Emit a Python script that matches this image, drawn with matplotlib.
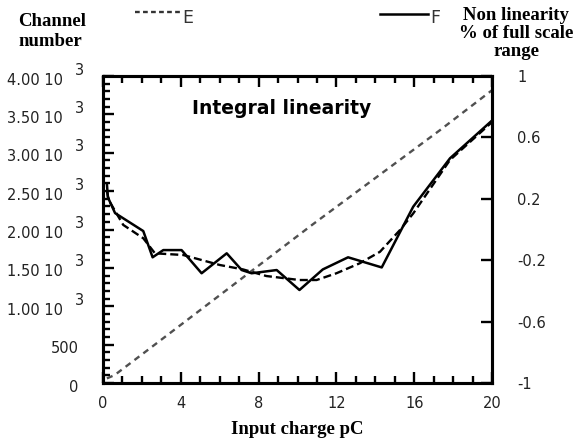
import matplotlib
matplotlib.use("Agg")
import matplotlib.pyplot as plt
import matplotlib.transforms as mtransforms
from matplotlib.ticker import MultipleLocator, FixedLocator

# curva de canales (eje izquierdo)
carga_canal = [0.2, 0.6, 2.3, 10.8, 17.3, 20.0]
canal = [60, 104, 430, 2070, 3290, 3815]

# no linealidad F (linea continua, eje derecho)
carga_f = [0.2, 0.25, 0.62, 2.07, 2.55, 3.1, 4.04, 5.07, 6.36, 7.13, 7.64, 8.93,
           10.1, 11.3, 12.6, 14.33, 15.95, 17.84, 20.0]
nolin_f = [0.30, 0.21, 0.107, -0.01, -0.181, -0.134, -0.134, -0.285, -0.155, -0.264,
           -0.285, -0.264, -0.394, -0.26, -0.181, -0.247, 0.149, 0.464, 0.71]

# no linealidad E (linea discontinua, eje derecho)
carga_e = [0.2, 0.3, 1.04, 2.07, 2.67, 4.12, 6.0, 7.2, 8.4, 10.1, 10.98, 12.0,
           13.2, 14.24, 15.27, 15.95, 17.84, 20.0]
nolin_e = [0.25, 0.19, 0.03, -0.057, -0.155, -0.166, -0.231, -0.26, -0.303, -0.329,
           -0.329, -0.285, -0.22, -0.145, -0.003, 0.105, 0.453, 0.70]

xticks = [0, 4, 8, 12, 16, 20]
yticks_izq = [0, 500, 1000, 1500, 2000, 2500, 3000, 3500, 4000]
ylabels_izq = ["0", "500", "1.00 10", "1.50 10", "2.00 10", "2.50 10",
               "3.00 10", "3.50 10", "4.00 10"]
yticks_der = [-1, -0.6, -0.2, 0.2, 0.6, 1]
ylabels_der = ["-1", "-0.6", "-0.2", "0.2", "0.6", "1"]

fig = plt.figure(figsize=(5.8, 4.43), dpi=100)
ax = fig.add_axes([0.1776, 0.1354, 0.6707, 0.693])
ax2 = ax.twinx()

ax.plot(carga_canal, canal, color="#505050", lw=1.7, dashes=(2.6, 2.1))
ax2.plot(carga_e, nolin_e, color="black", lw=1.7, dashes=(3.4, 1.7))
ax2.plot(carga_f, nolin_f, color="black", lw=1.8)

ax.set_xlim(0, 20)
ax.set_ylim(0, 4000)
ax2.set_ylim(-1, 1)

for s in ax.spines.values():
    s.set_linewidth(2.2)
for s in ax2.spines.values():
    s.set_linewidth(2.2)

ax.xaxis.set_major_locator(FixedLocator(xticks))
ax.xaxis.set_minor_locator(MultipleLocator(1))
ax.yaxis.set_major_locator(FixedLocator(yticks_izq))
ax.yaxis.set_minor_locator(MultipleLocator(100))
ax.tick_params(which="both", direction="in", top=True, width=1.7)
ax.tick_params(which="major", length=8)
ax.tick_params(which="minor", length=5)
ax.tick_params(axis="x", labelsize=10.5, pad=9, labelcolor="#222222")
ax.tick_params(axis="y", labelleft=False)

ax2.yaxis.set_major_locator(FixedLocator(yticks_der))
ax2.set_yticklabels(ylabels_der)
ax2.tick_params(direction="in", length=8, width=1.7, labelsize=10.5, pad=18,
                labelcolor="#222222")

# etiquetas del eje izquierdo con el exponente elevado
trans = mtransforms.blended_transform_factory(ax.transAxes, ax.transData)
abajo = mtransforms.offset_copy(trans, fig=fig, x=0, y=-4, units="dots")
arriba = mtransforms.offset_copy(trans, fig=fig, x=0, y=6, units="dots")
for v, lab in zip(yticks_izq, ylabels_izq):
    if v < 1000:
        ax.text(-0.063, v, lab, transform=abajo, ha="right", va="center",
                fontsize=10.5, color="#222222")
    else:
        ax.text(-0.103, v, lab, transform=abajo, ha="right", va="center",
                fontsize=10.5, color="#222222")
        ax.text(-0.072, v, "3", transform=arriba, ha="left", va="center",
                fontsize=10.5, color="#222222")

ax.text(0.229, 0.893, "Integral linearity", transform=ax.transAxes,
        fontsize=13.5, fontweight="bold", ha="left", va="center")

serif = {"family": "Liberation Serif", "weight": "bold", "size": 13.5}
fig.text(18 / 580, 1 - 22 / 443, "Channel", fontdict=serif, ha="left", va="center")
fig.text(18 / 580, 1 - 41 / 443, "number", fontdict=serif, ha="left", va="center")
fig.text(516 / 580, 1 - 15 / 443, "Non linearity", fontdict=serif, ha="center", va="center")
fig.text(516 / 580, 1 - 33 / 443, "% of full scale", fontdict=serif, ha="center", va="center")
fig.text(516 / 580, 1 - 52 / 443, "range", fontdict=serif, ha="center", va="center")
fig.text(297 / 580, 1 - 430 / 443, "Input charge pC", fontdict=serif, ha="center", va="center")

# leyenda superior
fig.lines.append(plt.Line2D([135 / 580, 180 / 580], [1 - 12 / 443, 1 - 12 / 443],
                            transform=fig.transFigure, color="#333333", lw=1.7,
                            dashes=(2.0, 1.4)))
fig.text(182 / 580, 1 - 18 / 443, "E", fontsize=12.5, color="#333333",
         ha="left", va="center")
fig.lines.append(plt.Line2D([380 / 580, 428 / 580], [1 - 14 / 443, 1 - 14 / 443],
                            transform=fig.transFigure, color="black", lw=1.8))
fig.text(430 / 580, 1 - 18 / 443, "F", fontsize=12.5, color="#333333",
         ha="left", va="center")

fig.savefig("out.png", dpi=100)
